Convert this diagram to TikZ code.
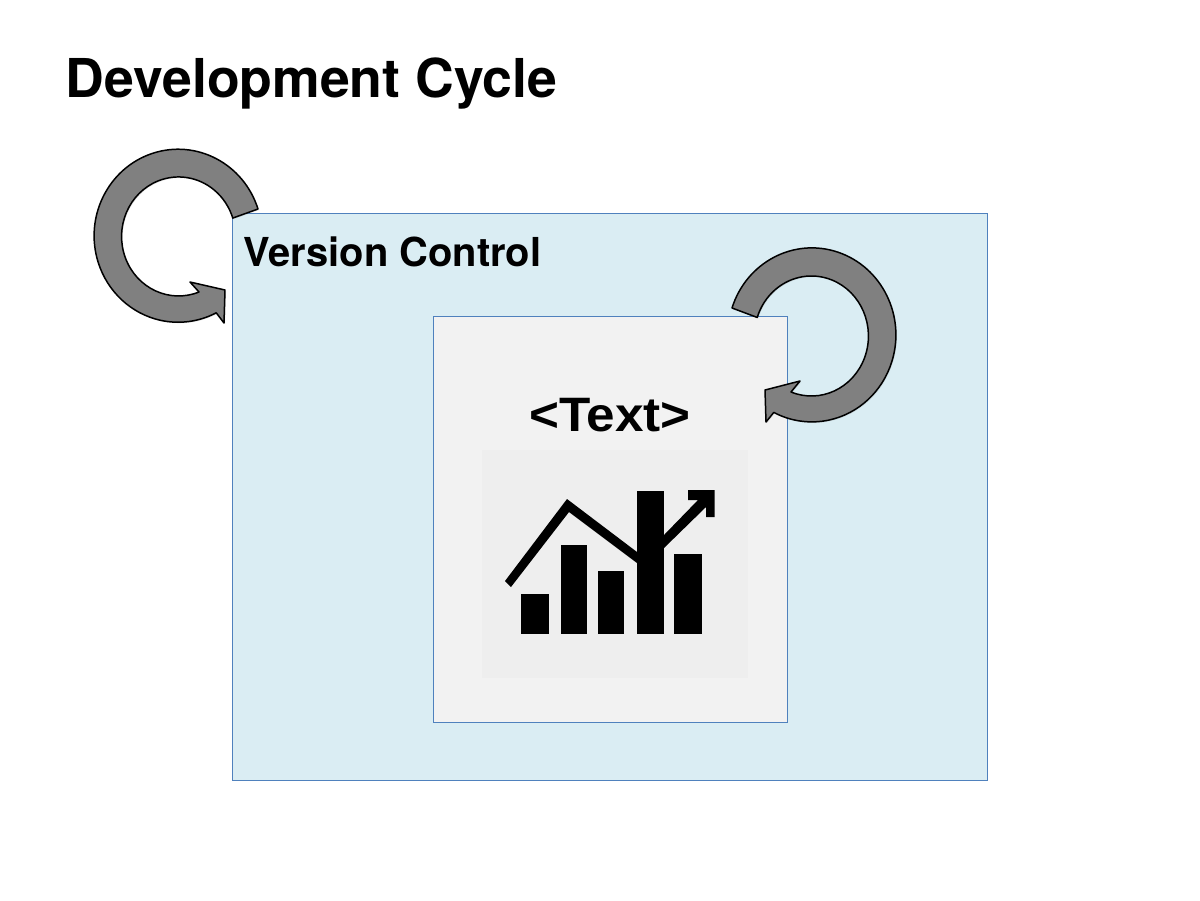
\documentclass[tikz,border=0pt]{standalone}
\usepackage{fontspec}
\setmainfont{TeX Gyre Heros}
\newfontfamily\tagfont[FakeStretch=1.06]{Liberation Sans}
\usetikzlibrary{shadows}
\definecolor{vcsblue}{HTML}{DAEDF3}
\definecolor{vcsline}{HTML}{4F81BD}
\definecolor{textgray}{HTML}{F2F2F2}
\definecolor{icongray}{HTML}{EEEEEE}
\tikzset{
  panel/.style={draw=vcsline,line width=0.5pt,inner sep=0pt},
  cyclearrow/.style={draw=black,fill=gray,line width=0.85pt,line join=round,
    drop shadow={shadow xshift=0.6pt,shadow yshift=-0.6pt,opacity=0.2}},
  label/.style={font=\bfseries,inner sep=0pt,anchor=base west}
}
\begin{document}
\begin{tikzpicture}[x=0.02cm,y=-0.02cm]
  \useasboundingbox (0,0) rectangle (1200,900);
  \node[label,font=\bfseries\fontsize{30.5}{32}\selectfont] (title) at (65.5,97) {Development Cycle};
  \node[panel,fill=vcsblue,minimum width=15.12cm,minimum height=11.34cm] (vcs) at (610,496.6) {};
  \node[label,font=\bfseries\fontsize{22.7}{24}\selectfont] (vcslabel) at (243.5,266) {Version Control};
  \node[panel,fill=textgray,minimum width=7.08cm,minimum height=8.12cm] (textbox) at (610,519) {};
  \node[label,font=\tagfont\bfseries\fontsize{27.5}{30}\selectfont,anchor=base] (textlabel) at (610,431) {<Text>};
  \node[fill=icongray,minimum width=5.32cm,minimum height=4.56cm,inner sep=0pt] (iconback) at (615,564) {};
  % bars of the icon
  \foreach \l/\r/\t in {521/549/594,561/587/545,598/624/571,637/664/491,674/702/554}
    \fill[black] (\l,\t) rectangle (\r,634);
  \fill[black] (505,581) -- (567,499) -- (637,552) -- (637,563) -- (569,512) -- (511,587) -- cycle;
  \fill[black] (664,535) -- (698,500) -- (688,500) -- (688,490) -- (714.5,490) -- (714.5,517)
    -- (706,517) -- (706,507) -- (664,548) -- cycle;
  % the two cycle arrows
  \draw[cyclearrow] (258,209) arc[start angle=-18,end angle=-297,x radius=84,y radius=86.5]
    -- (224,323) -- (225,290) -- (190,282) -- (199,292)
    arc[start angle=-291,end angle=-18,x radius=57,y radius=59.5] -- cycle;
  \draw[cyclearrow] (732,308) arc[start angle=-162,end angle=117,x radius=84,y radius=87]
    -- (766,422) -- (765,390) -- (800,381) -- (791,392)
    arc[start angle=111,end angle=-162,x radius=57,y radius=60] -- cycle;
\end{tikzpicture}
\end{document}
